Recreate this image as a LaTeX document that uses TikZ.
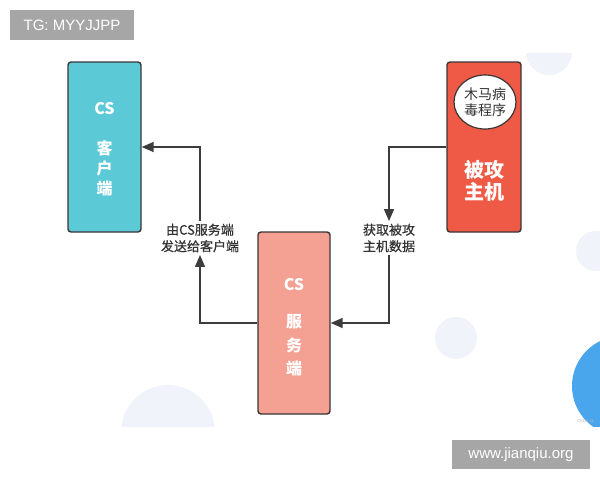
\documentclass[tikz,border=0pt]{standalone}
\usepackage{fontspec}
\setmainfont{Liberation Sans}
\newfontfamily\cjk{Noto Sans CJK SC}
\newfontfamily\cjklbl[FakeBold=0.7]{Noto Sans CJK SC}
\usetikzlibrary{arrows.meta,positioning,shapes.geometric}
\definecolor{cyanbox}{HTML}{5CC9D7}
\definecolor{salmonbox}{HTML}{F4A093}
\definecolor{redbox}{HTML}{EE5A45}
\definecolor{boxedge}{HTML}{3A3636}
\definecolor{linecol}{HTML}{3C3C3C}
\definecolor{txtcol}{HTML}{333333}
\definecolor{tagbg}{HTML}{A6A6A6}
\definecolor{pale}{HTML}{F0F3F9}
\definecolor{blob}{HTML}{4AA6EC}
\tikzset{
  mainbox/.style={draw=boxedge, line width=1.4pt, rounded corners=3pt, inner sep=0pt},
  boxtxt/.style={text=white, font=\cjk\bfseries\fontsize{16}{18}\selectfont, inner sep=0pt},
  bigtxt/.style={text=white, font=\cjk\bfseries\fontsize{20}{23}\selectfont, inner sep=0pt, align=center},
  lbl/.style={text=txtcol, font=\cjklbl\fontsize{13}{16.5}\selectfont, align=center, inner sep=2.5pt},
  conn/.style={draw=linecol, line width=1.5pt, -{Triangle[length=12pt,width=10pt]}},
  tag/.style={fill=tagbg, text=white, inner sep=0pt, font=\fontsize{15}{17}\selectfont}
}
\begin{document}
\begin{tikzpicture}[x=1pt,y=-1pt]
\useasboundingbox (0,0) rectangle (600,480);
\fill[white] (0,0) rectangle (600,480);
% background decorations
\begin{scope}
  \clip (0,53) rectangle (600,426);
  \fill[pale] (549,52) circle (23);
  \fill[pale] (168,432) circle (47);
  \fill[pale] (456,338) circle (21);
  \fill[pale] (596,251) circle (20);
  \fill[blob] (622,386) circle (50);
\end{scope}
\node[text=gray!60, font=\fontsize{4}{5}\selectfont, anchor=east, inner sep=0pt] (wm) at (594,421) {CSDN @};
% tags
\node[tag, minimum width=124pt, minimum height=30pt] (tg) at (72,25) {TG: MYYJJPP};
\node[tag, minimum width=138pt, minimum height=29pt] (www) at (521,454.5) {www.jianqiu.org};
% client box
\node[mainbox, fill=cyanbox, minimum width=73pt, minimum height=170pt] (client) at (104.5,147) {};
\node[boxtxt] (c1) at (104.5,109) {CS};
\node[boxtxt] (c2) at (104.5,148) {客};
\node[boxtxt] (c3) at (104.5,168) {户};
\node[boxtxt] (c4) at (104.5,188) {端};
% server box
\node[mainbox, fill=salmonbox, minimum width=72pt, minimum height=182pt] (server) at (294,323) {};
\node[boxtxt] (s1) at (294,285) {CS};
\node[boxtxt] (s2) at (294,322) {服};
\node[boxtxt] (s3) at (294,345) {务};
\node[boxtxt] (s4) at (294,368) {端};
% attacked host box
\node[mainbox, fill=redbox, minimum width=74pt, minimum height=170pt] (host) at (484,147) {};
\node[draw=boxedge, line width=1.2pt, fill=white, ellipse, minimum width=62pt, minimum height=54pt, inner sep=0pt,
      font=\cjk\fontsize{14}{15.5}\selectfont, text=txtcol, align=center] (trojan) at (485,102) {木马病\\毒程序};
\node[bigtxt] (h1) at (484,170) {被攻};
\node[bigtxt] (h2) at (484,192) {主机};
% labels
\node[lbl] (lblR) at (389,238) {获取被攻\\主机数据};
\node[lbl] (lblL) at (200,238) {由CS服务端\\发送给客户端};
% connectors
\draw[conn] (host.west) -| (lblR.north);
\draw[conn] (lblR.south) |- (server.east);
\draw[conn] (server.west) -| (lblL.south);
\draw[conn] (lblL.north) |- (client.east);
\end{tikzpicture}
\end{document}
